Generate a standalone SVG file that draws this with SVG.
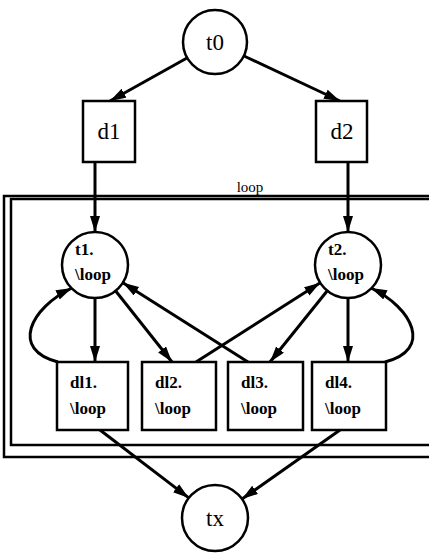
<svg xmlns="http://www.w3.org/2000/svg" width="429" height="554" viewBox="0 0 429 554">
<defs>
<marker id="ah" markerUnits="userSpaceOnUse" markerWidth="18" markerHeight="12" refX="16" refY="5" orient="auto">
<path d="M0,0 L16,5 L0,10 z" fill="#000"/>
</marker>
<style>
.node{fill:#fff;stroke:#000;stroke-width:2.5}
.e{fill:none;stroke:#000;stroke-width:3;marker-end:url(#ah)}
.big{font-family:"Liberation Serif","Times New Roman","DejaVu Serif",serif;font-size:23px;text-anchor:middle;fill:#000}
.sm{font-family:"Liberation Serif","Times New Roman","DejaVu Serif",serif;font-size:17px;font-weight:bold;fill:#000}
.lab{font-family:"Liberation Serif","Times New Roman","DejaVu Serif",serif;font-size:15px;text-anchor:middle;fill:#000}
.clu{fill:none;stroke:#000;stroke-width:2.5}
</style>
</defs>
<rect fill="#fff" width="429" height="554"/>
<g id="cluster_loop">
<rect class="clu" x="4" y="196" width="440" height="261"/>
<rect class="clu" x="11" y="199" width="440" height="246"/>
<text class="lab" x="250" y="192">loop</text>
</g>
<g id="edges">
<line class="e" x1="187" y1="58" x2="110" y2="101"/>
<line class="e" x1="244" y1="56" x2="340" y2="101"/>
<line class="e" x1="95" y1="162" x2="95" y2="232"/>
<line class="e" x1="348" y1="162" x2="348" y2="232"/>
<line class="e" x1="95" y1="298" x2="95" y2="362"/>
<line class="e" x1="115.5" y1="290.8" x2="172" y2="362"/>
<line class="e" x1="248" y1="362" x2="122.9" y2="282.7"/>
<line class="e" x1="348" y1="298" x2="348" y2="362"/>
<line class="e" x1="327.3" y1="290.7" x2="270" y2="362"/>
<line class="e" x1="196" y1="362" x2="320.2" y2="282.8"/>
<path class="e" d="M58,362 C10,350 30,308 72,288"/>
<path class="e" d="M385,362 C433,350 413,308 371,288"/>
<line class="e" x1="100" y1="430" x2="188.8" y2="497.9"/>
<line class="e" x1="340" y1="430" x2="242" y2="499"/>
</g>
<g id="t0"><circle class="node" cx="215" cy="42" r="32"/><text class="big" x="215" y="50">t0</text></g>
<g id="d1"><rect class="node" x="83" y="101" width="52" height="61"/><text class="big" x="109" y="139">d1</text></g>
<g id="d2"><rect class="node" x="316" y="101" width="51" height="61"/><text class="big" x="342" y="139">d2</text></g>
<g id="t1"><circle class="node" cx="95" cy="265" r="33"/><text class="sm" x="75" y="255">t1.</text><text class="sm" x="75" y="280">\loop</text></g>
<g id="t2"><circle class="node" cx="348" cy="265" r="33"/><text class="sm" x="328" y="255">t2.</text><text class="sm" x="328" y="280">\loop</text></g>
<g id="dl1"><rect class="node" x="57" y="362" width="71" height="68"/><text class="sm" x="70" y="388">dl1.</text><text class="sm" x="70" y="414">\loop</text></g>
<g id="dl2"><rect class="node" x="142" y="362" width="74" height="68"/><text class="sm" x="155" y="388">dl2.</text><text class="sm" x="155" y="414">\loop</text></g>
<g id="dl3"><rect class="node" x="228" y="362" width="75" height="68"/><text class="sm" x="241" y="388">dl3.</text><text class="sm" x="241" y="414">\loop</text></g>
<g id="dl4"><rect class="node" x="312" y="362" width="74" height="68"/><text class="sm" x="325" y="388">dl4.</text><text class="sm" x="325" y="414">\loop</text></g>
<g id="tx"><circle class="node" cx="215" cy="518" r="33"/><text class="big" x="215" y="526">tx</text></g>
</svg>
